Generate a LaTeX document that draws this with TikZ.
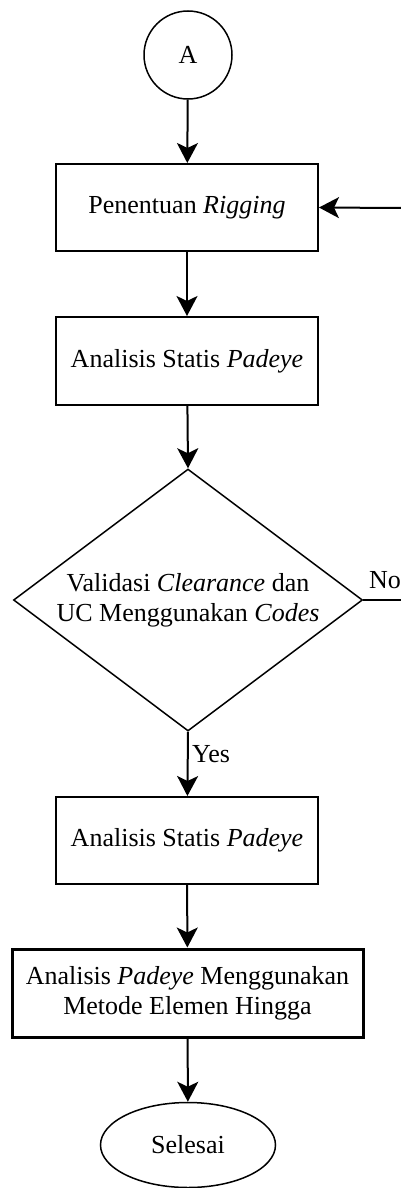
\documentclass[tikz,border=0pt]{standalone}
\usepackage{fontspec}
\setmainfont{Liberation Serif}
\usetikzlibrary{shapes.geometric,arrows.meta}
\tikzset{
  flowbox/.style={draw,line width=2pt,rectangle,minimum width=262,minimum height=87,inner sep=0,align=center},
  flowarr/.style={line width=2pt,-{Stealth[length=20pt,width=21pt,inset=5pt]}}
}
\begin{document}
\begin{tikzpicture}[x=1pt,y=-1pt,font=\fontsize{26}{30}\selectfont]
            \useasboundingbox (0,0) rectangle (401,1188);
            \node[draw,circle,line width=1.5pt,minimum size=88,inner sep=0] (conA) at (188,55) {A};
            \node[flowbox] (rigging) at (187,207.5) {Penentuan \textit{Rigging}};
            \node[flowbox,minimum height=88] (statis1) at (187,361) {Analisis Statis \textit{Padeye}};
            \node[draw,diamond,line width=1.5pt,shape aspect=1.332,inner sep=0,minimum width=349,minimum height=262,align=center] (valid) at (188,600) {Validasi \textit{Clearance} dan\\UC Menggunakan \textit{Codes}};
            \node[flowbox] (statis2) at (187,840.5) {Analisis Statis \textit{Padeye}};
            \node[flowbox,line width=3pt,minimum width=351,minimum height=88] (fem) at (187.5,993) {Analisis \textit{Padeye} Menggunakan\\Metode Elemen Hingga};
            \node[draw,ellipse,line width=1.5pt,minimum width=175,minimum height=85,inner sep=0] (selesai) at (188,1145) {Selesai};
            \coordinate (balik) at (401,208);
            \coordinate (tidak) at (401,600);
            \draw[flowarr] (conA) -- (rigging);
            \draw[flowarr] (balik) -- (rigging.east);
            \draw[flowarr] (rigging) -- (statis1);
            \draw[flowarr] (statis1) -- (valid.north);
            \draw[line width=2pt] (valid.east) -- (tidak);
            \node[] (no) at (385,580) {No};
            \draw[flowarr] (valid.south) -- (statis2);
            \node[] (yes) at (211,754) {Yes};
            \draw[flowarr] (statis2) -- (fem);
            \draw[flowarr] (fem) -- (selesai);
        \end{tikzpicture}
\end{document}
